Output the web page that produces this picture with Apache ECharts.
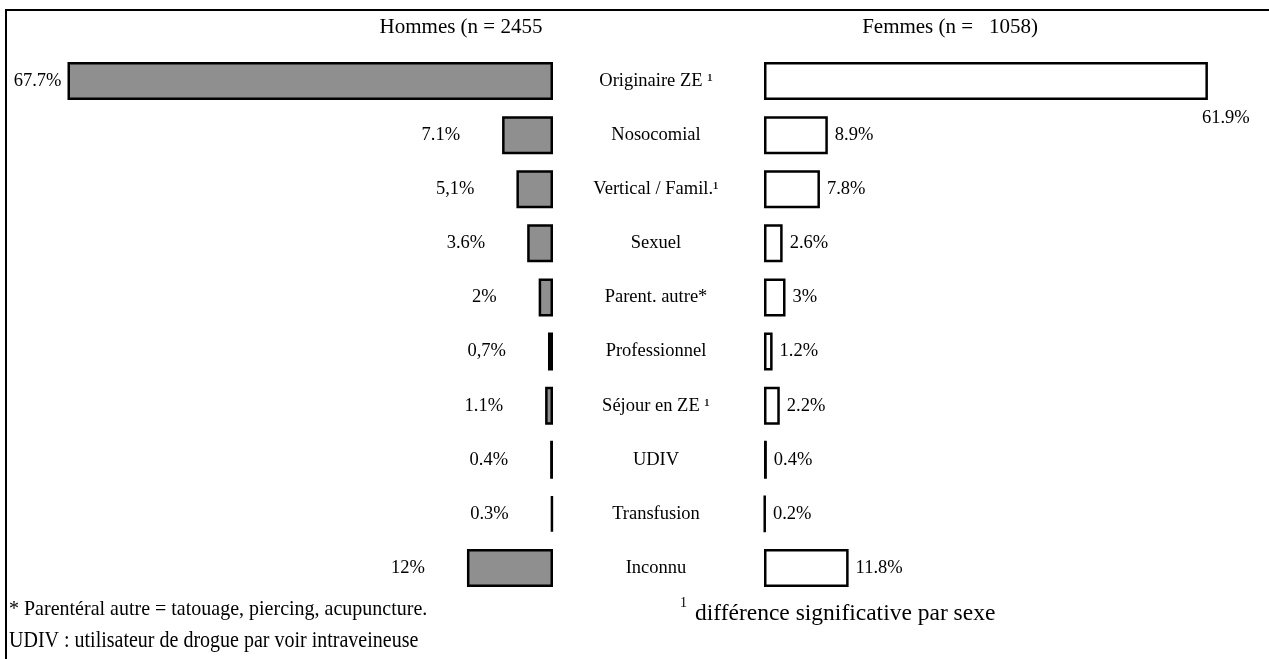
<!DOCTYPE html>
<html>
<head>
<meta charset="utf-8">
<script src="https://cdn.jsdelivr.net/npm/echarts@6/dist/echarts.min.js"></script>
<style>
	html, body { margin: 0; padding: 0; background: #fff; }
	#chart { width: 1269px; height: 659px; }
</style>
</head>
<body>
<div id="chart"></div>
<script>
var categories = ['Originaire ZE \u00b9', 'Nosocomial', 'Vertical / Famil.\u00b9', 'Sexuel', 'Parent. autre*',
	'Professionnel', 'Séjour en ZE \u00b9', 'UDIV', 'Transfusion', 'Inconnu'];
var hommes = [67.7, 7.1, 5.1, 3.6, 2, 0.7, 1.1, 0.4, 0.3, 12];
var hommesLabels = ['67.7%', '7.1%', '5,1%', '3.6%', '2%', '0,7%', '1.1%', '0.4%', '0.3%', '12%'];
var femmes = [61.9, 8.9, 7.8, 2.6, 3, 1.2, 2.2, 0.4, 0.2, 11.8];
var femmesLabels = ['61.9%', '8.9%', '7.8%', '2.6%', '3%', '1.2%', '2.2%', '0.4%', '0.2%', '11.8%'];

var serif = 'Liberation Serif, Times New Roman, serif';

var chart = echarts.init(document.getElementById('chart'));

// first bar on each side has its label placed differently
var hommesData = hommes.map(function (v, i) {
	var item = { value: v };
	if (i === 0) item.label = { distance: 6 };
	return item;
});
var femmesData = femmes.map(function (v, i) {
	var item = { value: v };
	if (i === 0) item.label = { distance: 0, offset: [-6, 37] };
	return item;
});

var option = {
	backgroundColor: '#fff',
	animation: false,
	textStyle: { fontFamily: serif },
	grid: [
		{ left: 51, right: 716, top: 54, bottom: 64, outerBoundsMode: 'none' },
		{ left: 764, right: 3, top: 54, bottom: 64, outerBoundsMode: 'none' }
	],
	xAxis: [
		{ gridIndex: 0, type: 'value', min: 0, max: 70, inverse: true, show: false },
		{ gridIndex: 1, type: 'value', min: 0, max: 70, show: false }
	],
	yAxis: [
		{ gridIndex: 0, type: 'category', data: categories, inverse: true, show: false },
		{
			gridIndex: 1, type: 'category', data: categories, inverse: true,
			axisLine: { show: false }, axisTick: { show: false }, splitLine: { show: false },
			axisLabel: {
				align: 'center', margin: 108, color: '#000',
				fontFamily: serif, fontSize: 18.5, padding: [0, 0, 8, 0]
			}
		}
	],
	series: [
		{
			name: 'Hommes', type: 'bar', xAxisIndex: 0, yAxisIndex: 0,
			data: hommesData, barWidth: 38,
			itemStyle: { color: '#8f8f8f', borderColor: '#000', borderWidth: 2.5 },
			label: {
				show: true, position: 'left', distance: 42, color: '#000',
				fontFamily: serif, fontSize: 18.5,
				formatter: function (p) { return hommesLabels[p.dataIndex]; }
			}
		},
		{
			name: 'Femmes', type: 'bar', xAxisIndex: 1, yAxisIndex: 1,
			data: femmesData, barWidth: 38,
			itemStyle: { color: '#fff', borderColor: '#000', borderWidth: 2.5 },
			label: {
				show: true, position: 'right', distance: 7, color: '#000',
				fontFamily: serif, fontSize: 18.5,
				formatter: function (p) { return femmesLabels[p.dataIndex]; }
			}
		}
	],
	graphic: [
		// frame: only top and left edges fall inside the picture
		{ type: 'rect', shape: { x: 6, y: 10, width: 1400, height: 800 },
		  style: { fill: 'none', stroke: '#000', lineWidth: 2 }, silent: true },
		{ type: 'text', x: 461, y: 27,
		  style: { text: 'Hommes (n = 2455', font: '21px ' + serif, fill: '#000',
		           textAlign: 'center', textVerticalAlign: 'middle' } },
		{ type: 'text', x: 950, y: 27,
		  style: { text: 'Femmes (n =   1058)', font: '21px ' + serif, fill: '#000',
		           textAlign: 'center', textVerticalAlign: 'middle' } },
		{ type: 'text', x: 9, y: 609, scaleY: 1.1,
		  style: { text: '* Parentéral autre = tatouage, piercing, acupuncture.', font: '20px ' + serif,
		           fill: '#000', textVerticalAlign: 'middle' } },
		{ type: 'text', x: 9, y: 641, scaleY: 1.2,
		  style: { text: 'UDIV : utilisateur de drogue par voir intraveineuse', font: '20px ' + serif,
		           fill: '#000', textVerticalAlign: 'middle' } },
		{ type: 'text', x: 680, y: 603,
		  style: { text: '1', font: '14px ' + serif, fill: '#000', textVerticalAlign: 'middle' } },
		{ type: 'text', x: 695, y: 614,
		  style: { text: 'différence significative par sexe', font: '23.5px ' + serif,
		           fill: '#000', textVerticalAlign: 'middle' } }
	]
};

chart.setOption(option);
</script>
</body>
</html>
